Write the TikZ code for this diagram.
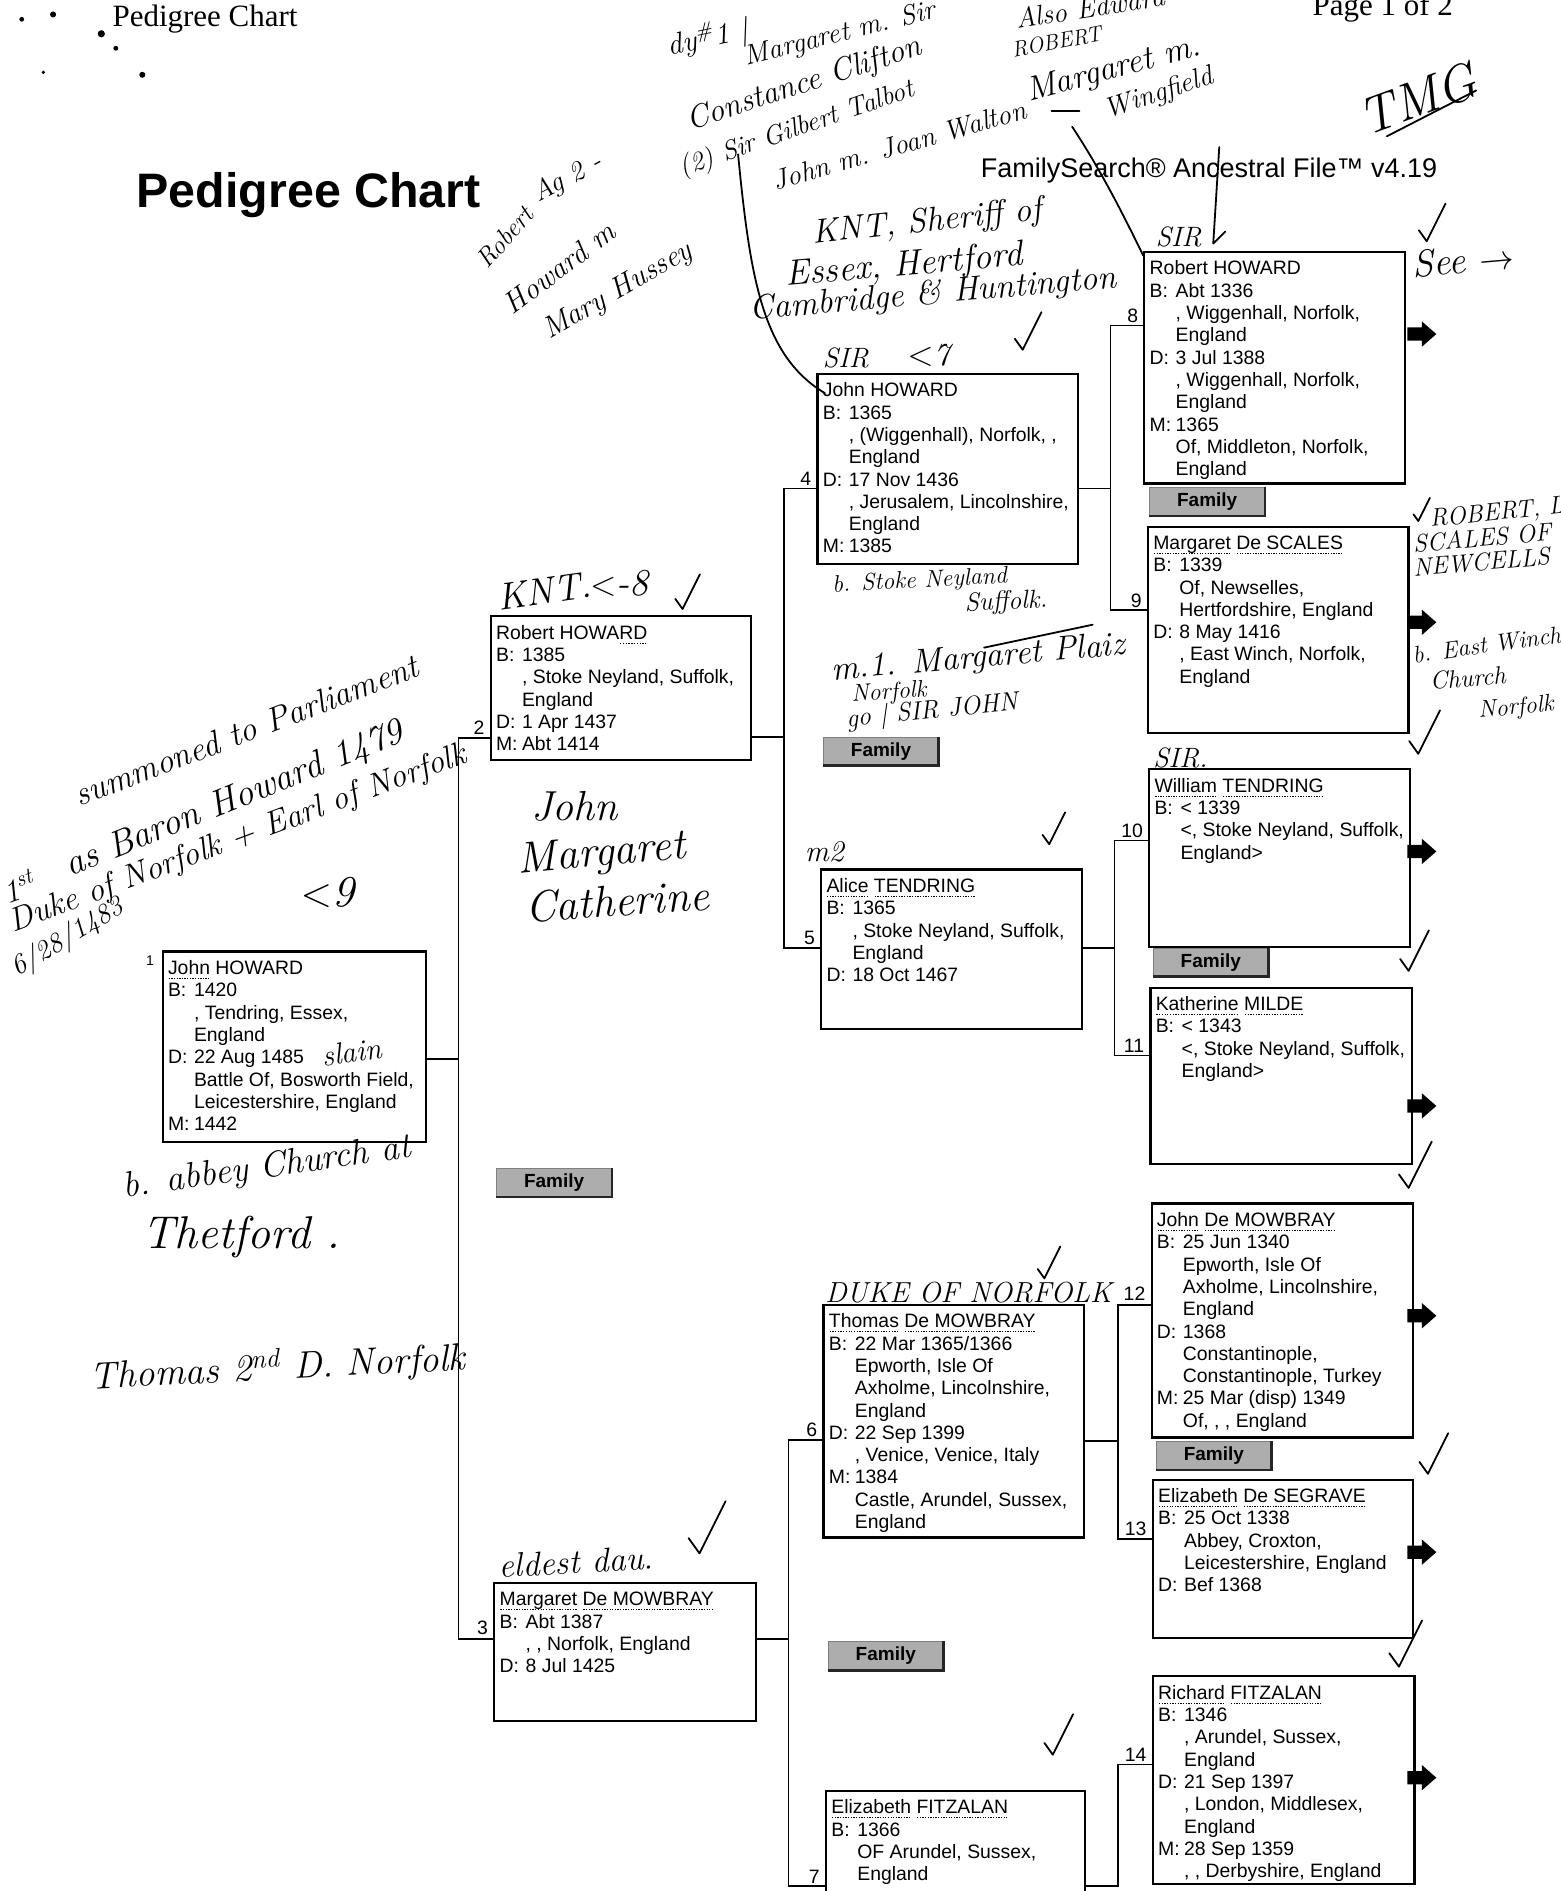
\documentclass[tikz,border=0pt]{standalone}
\usepackage{fontspec}
\newfontfamily\arialf{Liberation Sans}
\newfontfamily\timesf{Liberation Serif}
\newcommand\pc{\hspace*{13pt}}
\newcommand\fd[1]{\makebox[13pt][l]{#1}}
\newsavebox\nmbox
\newcommand\nmu[1]{\sbox\nmbox{#1}\rlap{\raisebox{-2.2pt}{\hbox to \wd\nmbox{\xleaders\hbox to 1.3pt{\hss\rule{0.65pt}{0.45pt}\hss}\hfill}}}\usebox\nmbox}
\tikzset{
  pbox/.style={draw, line width=1.1pt, anchor=north west, inner sep=0pt},
  ptext/.style={anchor=north west, inner sep=0pt, align=left,
    font=\arialf\fontsize{9.7}{11.16}\selectfont},
  numl/.style={anchor=south east, inner sep=0pt, font=\arialf\fontsize{9.7}{10}\selectfont},
  conn/.style={line width=0.75pt},
  famb/.style={minimum width=95*0.6032pt, minimum height=23*0.6032pt, inner sep=0pt,
    fill=black!32, draw=black!50, line width=0.5pt,
    font=\arialf\bfseries\fontsize{9.5}{10}\selectfont},
  hw/.style={anchor=base west, inner sep=0pt, font=\itshape\fontsize{16}{17}\selectfont},
  ink/.style={line width=0.9pt, line cap=round, line join=round}
}
\newcommand\person[7]{%
  \node[pbox, minimum width=#4*0.6032pt, minimum height=#5*0.6032pt] (b#1) at (#2,#3) {};
  \node[ptext] (t#1) at (#2+5,#3+8) {#7};
  \node[numl] (n#1) at #6 {#1};
}
\newcommand\rarr[1]{\fill (1167,#1-5.5) -- (1179,#1-5.5) -- (1179,#1-10.5) -- (1191,#1) -- (1179,#1+10.5) -- (1179,#1+5.5) -- (1167,#1+5.5) -- cycle;}
\newcommand\chk[3]{\draw[ink] (#1-0.25*#3,#2-0.35*#3) -- (#1,#2) -- (#1+0.6*#3,#2-1.2*#3);}
\newcommand\famshade[1]{\draw[line width=1.3pt, black!85] (#1.south west) -- (#1.south east) -- (#1.north east);}
\newcommand\hwf[1]{\itshape\fontsize{#1}{#1}\selectfont}
\begin{document}
\begin{tikzpicture}[x=0.6032pt, y=-0.6032pt]
\useasboundingbox (0,0) rectangle (1294,1568);

% ---------------- headers
\node[anchor=base west, inner sep=0pt, font=\timesf\fontsize{15.5}{16}\selectfont] (hdr) at (93,22) {Pedigree Chart};
\node[anchor=base west, inner sep=0pt, font=\timesf\fontsize{15.5}{16}\selectfont] (pg) at (1088,13) {Page 1 of 2};
\node[anchor=base west, inner sep=0pt, font=\arialf\bfseries\fontsize{24.2}{26}\selectfont] (title) at (113,172) {Pedigree Chart};
\node[anchor=base west, inner sep=0pt, font=\arialf\fontsize{13.5}{14}\selectfont] (afile) at (813,147) {FamilySearch® Ancestral File™ v4.19};

% ---------------- persons
\person{1}{134}{788}{218}{158}{(200,0)}{\nmu{John} HOWARD\\ \fd{B:}1420\\ \pc, Tendring, Essex,\\ \pc England\\ \fd{D:}22 Aug 1485\\ \pc Battle Of, Bosworth Field,\\ \pc Leicestershire, England\\ \fd{M:}1442}
\node[anchor=north east, inner sep=0pt, font=\arialf\fontsize{7}{7}\selectfont] (n1b) at (128,792) {1};
\person{2}{406}{510}{216}{119}{(402,609)}{Robert HOWA\nmu{RD}\\ \fd{B:}1385\\ \pc, Stoke Neyland, Suffolk,\\ \pc England\\ \fd{D:}1 Apr 1437\\ \fd{M:}Abt 1414}
\person{3}{409}{1312}{217}{114}{(405,1356)}{\nmu{Margaret} \nmu{De MOWBRAY}\\ \fd{B:}Abt 1387\\ \pc, , Norfolk, England\\ \fd{D:}8 Jul 1425}
\person{4}{677}{309}{216}{158}{(673,403)}{John HOWARD\\ \fd{B:}1365\\ \pc, (Wiggenhall), Norfolk, ,\\ \pc England\\ \fd{D:}17 Nov 1436\\ \pc, Jerusalem, Lincolnshire,\\ \pc England\\ \fd{M:}1385}
\person{5}{680}{720}{216}{132}{(676,784)}{\nmu{Alice} \nmu{TENDRING}\\ \fd{B:}1365\\ \pc, Stoke Neyland, Suffolk,\\ \pc England\\ \fd{D:}18 Oct 1467}
\person{6}{682}{1081}{216}{193}{(678,1192)}{\nmu{Thomas} \nmu{De MOWBRAY}\\ \fd{B:}22 Mar 1365/1366\\ \pc Epworth, Isle Of\\ \pc Axholme, Lincolnshire,\\ \pc England\\ \fd{D:}22 Sep 1399\\ \pc, Venice, Venice, Italy\\ \fd{M:}1384\\ \pc Castle, Arundel, Sussex,\\ \pc England}
\person{7}{684}{1484}{215}{110}{(680,1562)}{\nmu{Elizabeth} \nmu{FITZALAN}\\ \fd{B:}1366\\ \pc OF Arundel, Sussex,\\ \pc England}
\person{8}{948}{208}{216}{192}{(944,268)}{Robert HOWARD\\ \fd{B:}Abt 1336\\ \pc, Wiggenhall, Norfolk,\\ \pc England\\ \fd{D:}3 Jul 1388\\ \pc, Wiggenhall, Norfolk,\\ \pc England\\ \fd{M:}1365\\ \pc Of, Middleton, Norfolk,\\ \pc England}
\person{9}{951}{436}{216}{171}{(947,504)}{\nmu{Margaret} \nmu{De SCALES}\\ \fd{B:}1339\\ \pc Of, Newselles,\\ \pc Hertfordshire, England\\ \fd{D:}8 May 1416\\ \pc, East Winch, Norfolk,\\ \pc England}
\person{10}{952}{637}{216}{147}{(948,695)}{\nmu{William} \nmu{TENDRING}\\ \fd{B:}< 1339\\ \pc <, Stoke Neyland, Suffolk,\\ \pc England>}
\person{11}{953}{818}{217}{146}{(949,873)}{\nmu{Katherine} \nmu{MILDE}\\ \fd{B:}< 1343\\ \pc <, Stoke Neyland, Suffolk,\\ \pc England>}
\person{12}{954}{997}{217}{194}{(950,1079)}{\nmu{John} \nmu{De MOWBRAY}\\ \fd{B:}25 Jun 1340\\ \pc Epworth, Isle Of\\ \pc Axholme, Lincolnshire,\\ \pc England\\ \fd{D:}1368\\ \pc Constantinople,\\ \pc Constantinople, Turkey\\ \fd{M:}25 Mar (disp) 1349\\ \pc Of, , , England}
\person{13}{955}{1226}{216}{131}{(951,1274)}{\nmu{Elizabeth} \nmu{De SEGRAVE}\\ \fd{B:}25 Oct 1338\\ \pc Abbey, Croxton,\\ \pc Leicestershire, England\\ \fd{D:}Bef 1368}
\person{14}{955}{1389}{217}{172}{(951,1461)}{\nmu{Richard} \nmu{FITZALAN}\\ \fd{B:}1346\\ \pc, Arundel, Sussex,\\ \pc England\\ \fd{D:}21 Sep 1397\\ \pc, London, Middlesex,\\ \pc England\\ \fd{M:}28 Sep 1359\\ \pc, , Derbyshire, England}

% ---------------- connectors
\coordinate (j1) at (380,878);
\coordinate (v1t) at (380,612);
\coordinate (v1b) at (380,1359);
\coordinate (j2) at (650,611);
\coordinate (v2t) at (650,405);
\coordinate (v2b) at (650,786);
\coordinate (j3) at (654,1359);
\coordinate (v3t) at (654,1194);
\coordinate (v3b) at (654,1564);
\coordinate (j4) at (921,405);
\coordinate (v4t) at (921,270);
\coordinate (v4b) at (921,506);
\coordinate (j5) at (924,786);
\coordinate (v5t) at (924,697);
\coordinate (v5b) at (924,875);
\coordinate (j6) at (927,1195);
\coordinate (v6t) at (927,1082);
\coordinate (v6b) at (927,1276);
\coordinate (j7) at (927,1564);
\coordinate (v7t) at (927,1463);

\draw[conn] (b1.east |- j1) -- (j1);
\draw[conn] (b2.west |- v1t) -- (v1t) -- (v1b) -- (b3.west |- v1b);
\draw[conn] (b2.east |- j2) -- (j2);
\draw[conn] (b4.west |- v2t) -- (v2t) -- (v2b) -- (b5.west |- v2b);
\draw[conn] (b3.east |- j3) -- (j3);
\draw[conn] (b6.west |- v3t) -- (v3t) -- (v3b) -- (b7.west |- v3b);
\draw[conn] (b4.east |- j4) -- (j4);
\draw[conn] (b8.west |- v4t) -- (v4t) -- (v4b) -- (b9.west |- v4b);
\draw[conn] (b5.east |- j5) -- (j5);
\draw[conn] (b10.west |- v5t) -- (v5t) -- (v5b) -- (b11.west |- v5b);
\draw[conn] (b6.east |- j6) -- (j6);
\draw[conn] (b12.west |- v6t) -- (v6t) -- (v6b) -- (b13.west |- v6b);
\draw[conn] (b7.east |- j7) -- (j7) -- (v7t) -- (b14.west |- v7t);

% ---------------- family buttons
\node[famb] (fam1) at (459.5,980.5) {Family};
\node[famb] (fam2) at (730.5,623) {Family};
\node[famb] (fam3) at (1001,416) {Family};
\node[famb] (fam4) at (1004,798) {Family};
\node[famb] (fam5) at (1006.5,1207) {Family};
\node[famb] (fam6) at (734.5,1373) {Family};
\famshade{fam1}\famshade{fam2}\famshade{fam3}\famshade{fam4}\famshade{fam5}\famshade{fam6}

% ---------------- continuation arrows
\rarr{277}\rarr{516}\rarr{706}\rarr{917}\rarr{1091}\rarr{1287}\rarr{1474}

% ---------------- handwritten notes (top)
\node[hw, rotate=12, font=\hwf{15}] (h1) at (555,46) {dy\textsuperscript{\#}1 |};
\node[hw, rotate=14, font=\hwf{14}] (h2) at (619,54) {Margaret m. Sir};
\node[hw, rotate=9, font=\hwf{14}] (h3) at (843,24) {Also Edward};
\node[hw, rotate=18, font=\hwf{16}] (h4) at (572,108) {Constance Clifton};
\node[hw, rotate=19, font=\hwf{13.5}] (h5) at (566,146) {(2) Sir Gilbert Talbot};
\node[hw, rotate=11, font=\hwf{11}] (h6) at (840,48) {ROBERT};
\node[hw, rotate=16, font=\hwf{14}] (h7) at (643,158) {John m. Joan Walton};
\node[hw, rotate=15, font=\hwf{17}] (h8) at (853,84) {Margaret m.};
\node[hw, rotate=18, font=\hwf{14}] (h9) at (918,98) {Wingfield};
\node[hw, rotate=20, font=\hwf{26}] (h10) at (1133,113) {TMG};
\draw[ink] (1150,113) -- (1224,75);

\node[hw, rotate=28, font=\hwf{14}] (h11) at (446,168) {Ag 2 -};
\node[hw, rotate=48, font=\hwf{13}] (h12) at (404,224) {Robert};
\node[hw, rotate=37, font=\hwf{15}] (h13) at (425,262) {Howard m};
\node[hw, rotate=30, font=\hwf{15}] (h14) at (455,282) {Mary Hussey};

\node[hw, rotate=6, font=\hwf{17}] (h15) at (674,202) {KNT, Sheriff of};
\node[hw, rotate=5, font=\hwf{18}] (h16) at (652,237) {Essex, Hertford};
\node[hw, rotate=5, font=\hwf{17}] (h17) at (622,265) {Cambridge \& Huntington};
\node[hw, font=\hwf{14}] (h18) at (682,305) {SIR};
\node[hw, font=\hwf{16}] (h19) at (752,303) {$<$7};
\node[hw, font=\hwf{14}] (h20) at (958,204) {SIR};
\draw[ink] (1011,122) -- (1006,202) -- (1016,192);
\node[hw, rotate=5, font=\hwf{19}] (h21) at (1172,230) {See $\rightarrow$};

\draw[ink] (612,128) .. controls (622,230) and (632,295) .. (684,326);
\draw[ink] (872,92) -- (895,92);
\draw[ink] (889,105) .. controls (912,140) and (930,175) .. (948,212);

% ---------------- handwritten notes (middle)
\node[hw, rotate=3, font=\hwf{12}] (h22) at (690,491) {b. Stoke Neyland};
\node[hw, rotate=3, font=\hwf{13}] (h23) at (800,507) {Suffolk.};
\draw[ink] (816,537) -- (906,518);
\node[hw, rotate=5, font=\hwf{17}] (h24) at (690,564) {m.1. Margaret Plaiz};
\node[hw, rotate=4, font=\hwf{12}] (h25) at (706,582) {Norfolk};
\node[hw, rotate=6, font=\hwf{13}] (h26) at (702,603) {go | SIR JOHN};

\node[hw, rotate=8, font=\hwf{19}] (h27) at (414,506) {KNT.};
\node[hw, font=\hwf{19}] (h28) at (489,494) {$<$-8};

\node[hw, rotate=21, font=\hwf{17}] (h29) at (66,669) {summoned to Parliament};
\node[hw, rotate=20, font=\hwf{16}] (h30a) at (6,750) {1\textsuperscript{st}};
\node[hw, rotate=22, font=\hwf{18.5}] (h30) at (58,727) {as Baron Howard 1479};
\node[hw, rotate=20.5, font=\hwf{16.5}] (h31) at (11,773) {Duke of Norfolk + Earl of Norfolk};
\node[hw, font=\hwf{22}] (h32) at (249,752) {$<$9};
\node[hw, rotate=31, font=\hwf{14}] (h33) at (14,810) {6/28/1483};

\node[hw, font=\hwf{21}] (h34) at (440,680) {John};
\node[hw, rotate=5, font=\hwf{22}] (h35) at (430,724) {Margaret};
\node[hw, rotate=4, font=\hwf{22}] (h36) at (436,765) {Catherine};
\node[hw, font=\hwf{15}] (h37) at (667,714) {m2};
\node[hw, font=\hwf{14}] (h38) at (956,636) {SIR.};

\node[hw, rotate=6, font=\hwf{12.5}] (h39) at (1186,437) {ROBERT, L};
\node[hw, rotate=5, font=\hwf{12.5}] (h40) at (1172,458) {SCALES OF};
\node[hw, rotate=5, font=\hwf{12.5}] (h41) at (1172,478) {NEWCELLS};
\node[hw, rotate=8, font=\hwf{12}] (h42) at (1172,550) {b. East Winch};
\node[hw, rotate=5, font=\hwf{12.5}] (h43) at (1186,572) {Church};
\node[hw, rotate=5, font=\hwf{12}] (h44) at (1226,595) {Norfolk};

% ---------------- handwritten notes (lower)
\node[hw, rotate=8, font=\hwf{15}] (h45) at (268,884) {slain};
\node[hw, rotate=8, font=\hwf{18}] (h46) at (103,993) {b. abbey Church at};
\node[hw, font=\hwf{23}] (h47) at (118,1035) {Thetford .};
\node[hw, rotate=3, font=\hwf{19}] (h48) at (75,1152) {Thomas 2\textsuperscript{nd} D. Norfolk};
\node[hw, font=\hwf{14.5}] (h49) at (684,1080) {DUKE OF NORFOLK};
\node[hw, rotate=3, font=\hwf{17}] (h50) at (414,1308) {eldest dau.};

% check marks
\chk{1183}{200}{26}
\chk{848}{290}{26}
\chk{566}{505}{24}
\chk{870}{700}{22}
\chk{1176}{432}{16}
\chk{1176}{625}{30}
\chk{1168}{805}{28}
\chk{1168}{985}{32}
\chk{1184}{1222}{28}
\chk{1160}{1382}{32}
\chk{873}{1455}{28}
\chk{866}{1060}{22}
\chk{580}{1288}{36}

% scan specks
\fill (18,16) circle (2); \fill (44,12) circle (2.5); \fill (84,28) circle (3);
\fill (96,40) circle (2); \fill (36,60) circle (1.5); \fill (118,62) circle (2.5);
\end{tikzpicture}
\end{document}
